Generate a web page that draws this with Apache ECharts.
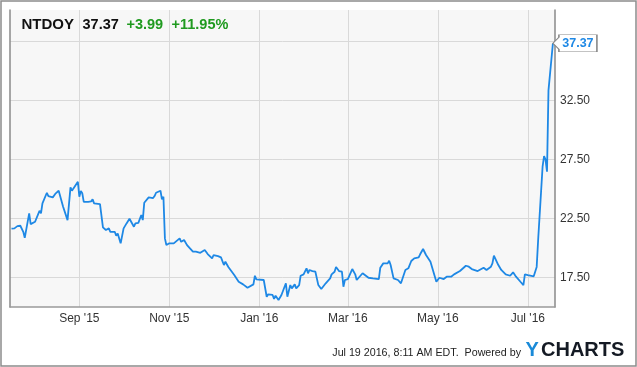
<!DOCTYPE html>
<html><head><meta charset="utf-8">
<script src="https://cdn.jsdelivr.net/npm/echarts@6/dist/echarts.min.js"></script>
<style>html,body{margin:0;padding:0;background:#fff}#c{width:637px;height:367px}</style>
</head><body><div id="c"></div>
<script>
const dates = [
'2015-07-17','2015-07-19','2015-07-21','2015-07-22','2015-07-23','2015-07-25','2015-07-26','2015-07-27','2015-07-29','2015-07-30',
'2015-08-02','2015-08-03','2015-08-05','2015-08-06','2015-08-07','2015-08-10','2015-08-11','2015-08-14','2015-08-16','2015-08-18',
'2015-08-19','2015-08-21','2015-08-24','2015-08-26','2015-08-27','2015-08-28','2015-08-31','2015-09-01','2015-09-02','2015-09-03',
'2015-09-04','2015-09-07','2015-09-09','2015-09-10','2015-09-11','2015-09-15','2015-09-17','2015-09-19','2015-09-21','2015-09-22',
'2015-09-23','2015-09-25','2015-09-26','2015-09-27','2015-09-29','2015-10-01','2015-10-03','2015-10-05','2015-10-08','2015-10-09',
'2015-10-11','2015-10-13','2015-10-14','2015-10-15','2015-10-18','2015-10-19','2015-10-21','2015-10-22','2015-10-23','2015-10-26',
'2015-10-27','2015-10-28','2015-10-29','2015-10-30','2015-11-01','2015-11-04','2015-11-05','2015-11-08','2015-11-09','2015-11-11',
'2015-11-13','2015-11-14','2015-11-17','2015-11-19','2015-11-22','2015-11-23','2015-11-25','2015-11-27','2015-11-30','2015-12-01',
'2015-12-04','2015-12-06','2015-12-08','2015-12-09','2015-12-11','2015-12-12','2015-12-15','2015-12-18','2015-12-21','2015-12-24',
'2015-12-28','2015-12-29','2015-12-30','2016-01-04','2016-01-06','2016-01-07','2016-01-10','2016-01-11','2016-01-12','2016-01-14',
'2016-01-16','2016-01-19','2016-01-20','2016-01-22','2016-01-23','2016-01-25','2016-01-26','2016-01-28','2016-01-29','2016-01-31',
'2016-02-02','2016-02-03','2016-02-04','2016-02-06','2016-02-08','2016-02-10','2016-02-12','2016-02-15','2016-02-18','2016-02-19',
'2016-02-21','2016-02-22','2016-02-24','2016-02-26','2016-02-27','2016-02-28','2016-03-01','2016-03-04','2016-03-06','2016-03-07',
'2016-03-11','2016-03-15','2016-03-18','2016-03-22','2016-03-23','2016-03-24','2016-03-25','2016-03-28','2016-03-29','2016-03-30',
'2016-04-01','2016-04-04','2016-04-06','2016-04-09','2016-04-11','2016-04-13','2016-04-14','2016-04-15','2016-04-18','2016-04-19',
'2016-04-21','2016-04-23','2016-04-26','2016-04-30','2016-05-02','2016-05-05','2016-05-07','2016-05-10','2016-05-11','2016-05-12',
'2016-05-16','2016-05-20','2016-05-22','2016-05-24','2016-05-25','2016-05-28','2016-06-01','2016-06-03','2016-06-06','2016-06-07',
'2016-06-08','2016-06-11','2016-06-13','2016-06-16','2016-06-19','2016-06-21','2016-06-22','2016-06-23','2016-06-24','2016-06-26',
'2016-06-28','2016-06-29','2016-07-01','2016-07-05','2016-07-06','2016-07-07','2016-07-08','2016-07-11','2016-07-12','2016-07-13',
'2016-07-14','2016-07-15','2016-07-18'
];
const prices = [
21.64,21.67,21.86,21.81,21.89,21.38,20.87,21.02,22.94,22.03,
22.23,22.37,23.16,22.94,23.79,24.69,24.41,24.30,24.64,24.86,
24.92,23.50,22.37,25.14,24.86,25.06,25.62,24.35,24.83,24.64,
23.92,23.92,23.96,24.13,23.79,23.73,21.75,21.53,21.67,21.38,
21.24,21.38,21.04,21.24,20.40,21.67,22.09,22.48,21.81,22.09,
22.14,22.80,22.37,23.84,24.30,24.35,24.24,24.41,24.69,24.86,
24.13,24.35,20.82,20.25,20.40,20.40,20.53,20.82,20.53,20.68,
20.25,20.17,19.69,19.69,19.60,19.66,19.83,19.49,19.13,19.41,
19.32,19.21,18.56,18.84,18.39,18.28,17.71,17.14,16.92,16.64,
16.92,17.65,17.35,17.29,15.87,16.08,16.02,15.68,15.96,15.59,
16.02,17.01,15.87,16.86,16.58,16.92,16.58,16.86,17.65,17.77,
18.28,17.86,18.14,18.05,17.99,16.86,16.53,17.01,17.43,17.77,
17.99,18.39,18.05,17.99,16.72,17.29,17.37,18.22,17.77,17.29,
17.86,17.48,17.43,17.37,18.33,18.22,18.70,18.70,18.92,18.56,
17.43,17.29,17.01,18.14,18.28,18.90,18.79,19.13,19.21,19.47,
19.92,19.41,18.84,17.14,17.48,17.37,17.57,17.57,17.48,17.77,
18.05,18.50,18.42,18.22,18.33,18.05,18.33,18.14,18.42,18.70,
19.35,18.56,18.14,17.77,17.65,17.94,17.94,17.57,17.71,17.14,
16.86,17.77,17.71,17.60,17.52,18.40,20.70,26.90,27.80,27.50,
26.47,33.38,37.37
];
const xTickDates = ['2015-09-01','2015-11-01','2016-01-01','2016-03-01','2016-05-01','2016-07-01'];
const xTickLabels = ["Sep '15","Nov '15","Jan '16","Mar '16","May '16","Jul '16"];
const yGridValues = [17.5, 22.5, 27.5, 32.5, 37.5];
const yLabelValues = [17.5, 22.5, 27.5, 32.5];
const headerTicker = 'NTDOY';
const headerLast = '37.37';
const headerChange = '+3.99';
const headerPct = '+11.95%';
const footerText = 'Jul 19 2016, 8:11 AM EDT.  Powered by';

function ts(s){const p=s.split('-').map(Number);return Date.UTC(p[0],p[1]-1,p[2]);}
const seriesData = dates.map((d,i)=>[ts(d),prices[i]]);
const xTicks = xTickDates.map(ts);
const last = seriesData.length-1;
const FONT = '"Liberation Sans", Arial, sans-serif';
const chart = echarts.init(document.getElementById('c'), null, {renderer:'canvas'});
const option = {
  animation:false,
  grid:{left:10,right:82,top:10,bottom:60,show:true,backgroundColor:'#f7f7f7',borderWidth:0},
  xAxis:{type:'value',min:Date.UTC(2015,6,16),max:Date.UTC(2016,6,19,10),
    axisLine:{show:true,onZero:false,lineStyle:{color:'#9a9a9a',width:1.5}},
    axisTick:{show:false,customValues:xTicks},
    axisLabel:{customValues:xTicks,formatter:v=>xTickLabels[xTicks.indexOf(v)]||'',color:'#333',fontSize:12,fontFamily:FONT,margin:6},
    splitLine:{show:true,lineStyle:{color:'#d9d9d9',width:1}}},
  yAxis:[
    {type:'value',position:'right',min:15,max:40.19,
     axisLine:{show:true,onZero:false,lineStyle:{color:'#8a8a8a',width:1.5}},
     axisTick:{show:false,customValues:yGridValues},
     axisLabel:{customValues:yLabelValues,formatter:v=>v.toFixed(2),color:'#333',fontSize:12,fontFamily:FONT,margin:5},
     splitLine:{show:true,lineStyle:{color:'#d9d9d9',width:1}}},
    {type:'value',position:'left',min:15,max:40.19,
     axisLine:{show:true,onZero:false,lineStyle:{color:'#8a8a8a',width:1.5}},
     axisTick:{show:false},axisLabel:{show:false},splitLine:{show:false}}
  ],
  series:[{type:'line',data:seriesData,showSymbol:false,
    lineStyle:{color:'#1e88e5',width:1.8},itemStyle:{color:'#1e88e5'},
    markPoint:{silent:true,symbol:'path://M0,8.5L6,2.5L6,0L44,0L44,17L6,17L6,14.5Z',symbolSize:[44,17],symbolOffset:[22,0],
      itemStyle:{color:'#fff',borderColor:'#888',borderWidth:1},
      label:{show:true,position:'inside',offset:[3,0],color:'#1e88e5',fontWeight:'bold',fontSize:12.5,fontFamily:FONT,formatter:p=>Number(p.value).toFixed(2)},
      data:[{coord:seriesData[last],value:prices[last]}]}}],
  graphic:[
    {type:'rect',silent:true,shape:{x:1,y:1,width:635,height:365},style:{fill:'none',stroke:'#8c8c8c',lineWidth:1.5}},
    {type:'text',x:21.5,y:25,style:{text:headerTicker,font:'bold 15px '+FONT,fill:'#111',textVerticalAlign:'middle'}},
    {type:'text',x:82.5,y:25,style:{text:headerLast,font:'bold 14.5px '+FONT,fill:'#111',textVerticalAlign:'middle'}},
    {type:'text',x:126.5,y:25,style:{text:headerChange,font:'bold 14.5px '+FONT,fill:'#1f9a1f',textVerticalAlign:'middle'}},
    {type:'text',x:171.5,y:25,style:{text:headerPct,font:'bold 14.5px '+FONT,fill:'#1f9a1f',textVerticalAlign:'middle'}},
    {type:'text',x:521,y:353,style:{text:footerText,font:'10.7px '+FONT,fill:'#222',textAlign:'right',textVerticalAlign:'middle'}},
    {type:'text',x:525.5,y:350.5,style:{text:'Y',font:'bold 20px '+FONT,fill:'#1a8ad8',textVerticalAlign:'middle'}},
    {type:'text',x:541,y:350.5,style:{text:'CHARTS',font:'bold 20px '+FONT,fill:'#141a24',textVerticalAlign:'middle'}}
  ]
};
chart.setOption(option);
</script></body></html>
